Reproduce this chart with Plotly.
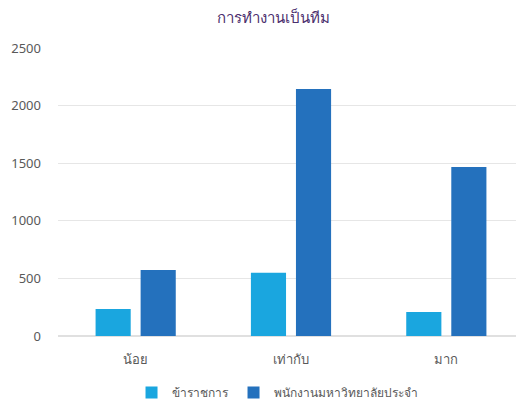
import plotly.graph_objects as go

categories = ["น้อย", "เท่ากับ", "มาก"]
series_names = ["ข้าราชการ", "พนักงานมหาวิทยาลัยประจำ"]
gov_values = [235, 548, 208]
staff_values = [573, 2145, 1467]
y_ticks = [0, 500, 1000, 1500, 2000, 2500]

fig = go.Figure()
fig.add_trace(go.Bar(x=categories, y=gov_values, name=series_names[0],
                     marker=dict(color="#1AA6DF", line=dict(width=0))))
fig.add_trace(go.Bar(x=categories, y=staff_values, name=series_names[1],
                     marker=dict(color="#2471BD", line=dict(width=0))))

fig.update_layout(
    width=516, height=400,
    margin=dict(l=50, r=0, t=40, b=72),
    paper_bgcolor="white", plot_bgcolor="white",
    font=dict(family="Noto Sans, sans-serif", size=13, color="#595959"),
    title=dict(text="การทำงานเป็นทีม", x=0.515, xanchor="center", y=0.975, yanchor="middle",
               font=dict(size=15, color="#4B2F6E")),
    barmode="group", bargap=0.42, bargroupgap=0.22,
    showlegend=True,
    legend=dict(orientation="h", x=0.47, xanchor="center", y=-0.146, yanchor="top",
                bgcolor="rgba(0,0,0,0)",
                font=dict(size=12, color="#595959"), itemwidth=30),
    xaxis=dict(showline=False, ticks="", tickfont=dict(size=13), ticklabelstandoff=14),
    yaxis=dict(range=[0, 2500], tickvals=y_ticks, showgrid=True, gridcolor="#E6E6E6",
               zeroline=True, zerolinecolor="#E0E0E0", ticks="", ticklabelstandoff=16,
               tickfont=dict(size=13)),
)

fig.write_html("out.html")
